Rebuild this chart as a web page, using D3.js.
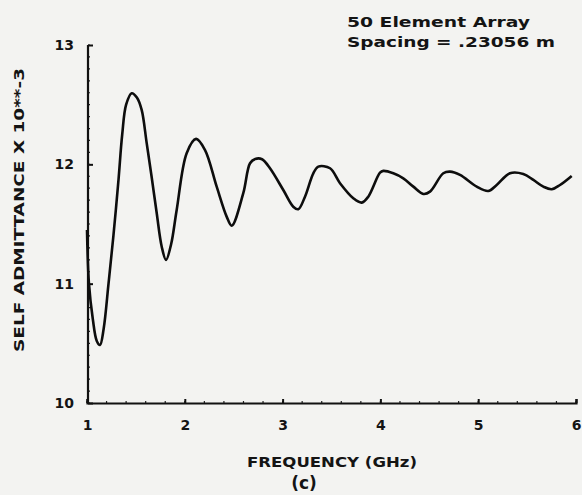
<!DOCTYPE html>
<html><head><meta charset="utf-8">
<script src="https://cdn.jsdelivr.net/npm/d3@7"></script>
<style>
html,body{margin:0;padding:0;background:#f3f3f1;}
svg{display:block;}
text{font-family:"DejaVu Sans",sans-serif;font-weight:bold;fill:#141414;}
</style></head>
<body>
<script>
// Frequency (GHz)
const freq = [1.0,1.02,1.06,1.1,1.133,1.17,1.22,1.27,1.32,1.36,1.40,1.457,1.51,1.559,1.61,1.66,1.713,1.764,1.808,1.86,1.917,2.019,2.115,2.207,2.326,2.428,2.48,2.598,2.667,2.72,2.79,2.871,3.007,3.109,3.16,3.229,3.314,3.365,3.485,3.587,3.723,3.809,3.876,3.996,4.03,4.132,4.234,4.337,4.439,4.507,4.643,4.712,4.814,4.985,5.103,5.189,5.325,5.461,5.564,5.666,5.751,5.836,5.956];
// Self admittance x 10**-3
const admittance = [11.45,11.0,10.7,10.52,10.486,10.62,11.0,11.4,11.85,12.25,12.5,12.596,12.56,12.456,12.18,11.90,11.59,11.31,11.199,11.33,11.618,12.093,12.213,12.12,11.813,11.562,11.486,11.758,12.009,12.045,12.043,11.967,11.785,11.645,11.624,11.729,11.925,11.981,11.967,11.842,11.716,11.679,11.729,11.930,11.945,11.925,11.883,11.813,11.752,11.771,11.925,11.939,11.911,11.813,11.777,11.827,11.925,11.919,11.869,11.813,11.791,11.827,11.903];
const xTicks = [1,2,3,4,5,6];
const yTicks = [10,11,12,13];
const xTickLabels = ["1","2","3","4","5","6"];
const yTickLabels = ["10","11","12","13"];
const annotation = ["50 Element Array","Spacing = .23056 m"];
const xTitle = "FREQUENCY (GHz)";
const yTitle = "SELF ADMITTANCE X 10**-3";
const caption = "(c)";

const W=582,H=495;
const svg=d3.select("body").append("svg").attr("width",W).attr("height",H);
const x=d3.scaleLinear().domain([1,6]).range([87,576]);
const y=d3.scaleLinear().domain([10,13]).range([403,45]);

// minor ticks
svg.append("g").selectAll("line").data(d3.range(1,6.001,0.2)).join("line")
  .attr("x1",d=>x(d)).attr("x2",d=>x(d)).attr("y1",403).attr("y2",401)
  .attr("stroke","#222").attr("stroke-width",1.2);
svg.append("g").selectAll("line").data(d3.range(10,13.001,0.1)).join("line")
  .attr("x1",88).attr("x2",90).attr("y1",d=>y(d)).attr("y2",d=>y(d))
  .attr("stroke","#222").attr("stroke-width",1.2);

const xAxis=d3.axisBottom(x).tickValues(xTicks).tickFormat((d,i)=>xTickLabels[i]).tickSize(-4).tickPadding(17);
const gx=svg.append("g").attr("transform","translate(0,403)").call(xAxis);
const yAxis=d3.axisLeft(y).tickValues(yTicks).tickFormat((d,i)=>yTickLabels[i]).tickSize(-5).tickPadding(14);
const gy=svg.append("g").attr("transform","translate(88,0)").call(yAxis);
[gx,gy].forEach(g=>{
  g.select(".domain").attr("stroke","#111").attr("stroke-width",2.2);
  g.selectAll(".tick line").attr("stroke","#111").attr("stroke-width",2);
  g.selectAll(".tick text").attr("font-size",14).attr("font-family","DejaVu Sans").attr("font-weight","bold").attr("fill","#141414");
});
gy.select(".domain").attr("d","M0,"+y(13)+"V"+y(10)+"H0");

// curve
const data=freq.map((f,i)=>({f,v:admittance[i]}));
svg.append("path").datum(data)
  .attr("d",d3.line().x(d=>x(d.f)).y(d=>y(d.v)).curve(d3.curveCatmullRom.alpha(0.5)))
  .attr("fill","none").attr("stroke","#0d0d0d").attr("stroke-width",2.6).attr("stroke-linejoin","round");

// annotation
svg.append("text").attr("x",347).attr("y",27).attr("font-size",13.5)
  .attr("textLength",183).attr("lengthAdjust","spacingAndGlyphs").text(annotation[0]);
svg.append("text").attr("x",347).attr("y",47).attr("font-size",13.5)
  .attr("textLength",208).attr("lengthAdjust","spacingAndGlyphs").text(annotation[1]);

// titles
svg.append("text").attr("x",332).attr("y",467).attr("text-anchor","middle").attr("font-size",13.5)
  .attr("textLength",170).attr("lengthAdjust","spacingAndGlyphs").text(xTitle);
svg.append("text").attr("x",304).attr("y",489).attr("text-anchor","middle").attr("font-size",17)
  .attr("font-weight","normal").text(caption);
svg.append("text").attr("transform","translate(24,210) rotate(-90)").attr("text-anchor","middle")
  .attr("font-size",13.5).attr("textLength",284).attr("lengthAdjust","spacingAndGlyphs").text(yTitle);
</script>
</body></html>
